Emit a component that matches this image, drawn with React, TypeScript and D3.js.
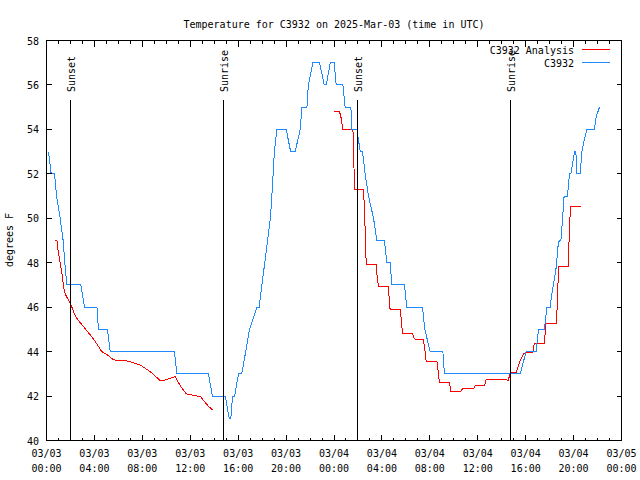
import React from "react";
import * as d3 from "d3";

// ---- Data (hours since 03/03 00:00 UTC, degrees F) ----
const blueTime = [0.17,0.39,0.67,0.84,1.14,1.39,1.53,1.70,2.87,3.17,4.21,4.34,5.09,5.32,10.68,10.88,13.52,13.85,14.92,15.25,15.39,15.53,15.70,16.03,16.30,16.63,16.94,17.56,17.75,17.98,18.22,18.46,18.69,18.81,18.92,19.02,19.23,20.01,20.38,20.76,21.18,21.32,21.74,21.86,22.24,22.79,22.99,23.18,23.35,23.69,24.02,24.18,24.74,24.93,25.41,25.49,25.91,26.19,26.38,26.60,26.88,27.30,27.58,28.21,28.41,28.69,28.83,29.88,30.08,31.39,31.58,32.03,33.09,33.22,39.54,40.04,40.87,41.07,41.57,41.77,42.04,42.19,42.38,42.55,42.69,42.80,42.94,43.05,43.21,43.49,43.66,43.78,44.08,44.19,44.27,44.55,44.69,44.88,45.11,45.74,45.88,46.16];
const blueTemp = [53,52,52,51,50,49,48,47,47,46,46,45,45,44,44,43,43,42,42,41,41,42,42,43,43,44,45,46,46,47,48,49,50,51,52,53,54,54,53,53,54,55,55,56,57,57,56.5,56,56,57,57,56,56,55,55,54,54,53,53,52,51,50,49,49,48,48,47,47,46,46,45,44,44,43,43,44,44,45,45,46,46,46.6,47.2,47.8,48.7,49,49,49.75,51,51,52,52,53,53,52,52,53,53.5,54,54,54.55,55];

const redTime1 = [0.67,0.87,0.95,1.2,1.34,1.42,1.56,1.70,1.98,2.12,2.4,2.67,3.23,3.92,4.62,5.04,5.59,6.84,7.82,8.66,9.49,9.77,10.74,11.16,11.66,12.55,12.83,13.52,13.86];
const redTemp1 = [49,49,48.6,47.8,47.35,46.9,46.6,46.45,46.2,46.0,45.6,45.4,45.03,44.57,44.0,43.87,43.63,43.57,43.4,43.1,42.7,42.7,42.88,42.47,42.1,42.0,41.99,41.54,41.38];
const redTime2 = [24.02,24.46,24.58,24.74,25.58,25.63,25.68,25.71,26.46,26.54,26.69,27.52,27.63,27.75,28.55,28.63,28.69,29.52,29.61,29.72,30.58,30.69,31.47,31.61,31.69,32.59,32.72,32.80,33.64,33.76,34.59,34.72,35.64,35.78,36.56,36.70,37.60,38.56,38.70,39.20,39.40,39.60,39.82,40.04,40.60,40.71,41.55,41.69,42.55,42.66,42.74,43.57,43.66,43.78,44.61];
const redTemp2 = [54.8,54.8,54.55,54.0,54.0,53.27,52.0,51.28,51.28,50.5,47.9,47.9,47.2,46.93,46.93,46.15,45.88,45.88,45.47,44.8,44.8,44.57,44.54,43.97,43.57,43.57,43.0,42.62,42.62,42.2,42.2,42.32,42.32,42.47,42.47,42.74,42.74,42.72,43.04,43.06,43.37,43.67,43.9,43.96,43.96,44.35,44.35,45.25,45.25,46.3,47.85,47.85,49.82,50.53,50.53];

const sunTimes = [2.0, 14.77, 25.93, 38.70];
const sunLabels = ["Sunset", "Sunrise", "Sunset", "Sunrise"];

const xTickHours = [0, 4, 8, 12, 16, 20, 24, 28, 32, 36, 40, 44, 48];
const xTickDates = ["03/03","03/03","03/03","03/03","03/03","03/03","03/04","03/04","03/04","03/04","03/04","03/04","03/05"];
const xTickTimes = ["00:00","04:00","08:00","12:00","16:00","20:00","00:00","04:00","08:00","12:00","16:00","20:00","00:00"];
const yTicks = [40, 42, 44, 46, 48, 50, 52, 54, 56, 58];

const seriesNames = ["C3932 Analysis", "C3932"];
const seriesColors = ["#ff0000", "#1e88ff"];

const FONT = "'DejaVu Sans Mono', monospace";

export default function App() {
  const L = 46.5, R = 621.5, T = 40.5, B = 440.5;
  const x = d3.scaleLinear().domain([0, 48]).range([L, R]);
  const y = d3.scaleLinear().domain([40, 58]).range([B, T]);
  const line = d3.line<[number, number]>().x(d => x(d[0])).y(d => y(d[1]));
  const zip = (a: number[], b: number[]) => a.map((t, i) => [t, b[i]] as [number, number]);

  const minor = d3.range(0, 49);

  return (
    <svg width={640} height={480} style={{ position: "absolute", left: 0, top: 0, background: "#fff" }}
      fontFamily={FONT} fontSize={10}>
      <rect x={0} y={0} width={640} height={480} fill="#fff" />
      <text x={(L + R) / 2} y={28} textAnchor="middle" fill="#000">Temperature for C3932 on 2025-Mar-03 (time in UTC)</text>

      {/* data */}
      <g shapeRendering="crispEdges">
        <path d={line(zip(redTime1, redTemp1)) || ""} fill="none" stroke={seriesColors[0]} strokeWidth={1} />
        <path d={line(zip(redTime2, redTemp2)) || ""} fill="none" stroke={seriesColors[0]} strokeWidth={1} />
        <path d={line(zip(blueTime, blueTemp)) || ""} fill="none" stroke={seriesColors[1]} strokeWidth={1} />
      </g>

      {/* sun lines */}
      {sunTimes.map((t, i) => {
        const xx = Math.round(x(t)) + 0.5;
        return (
          <g key={"s" + i}>
            <line x1={xx} x2={xx} y1={99.5} y2={B} stroke="#000" strokeWidth={1} shapeRendering="crispEdges" />
            <text transform={`translate(${xx + 4.5},92) rotate(-90)`} fill="#000">{sunLabels[i]}</text>
          </g>
        );
      })}

      {/* ticks */}
      <g stroke="#000" strokeWidth={1} shapeRendering="crispEdges">
        {minor.map(h => {
          const xx = Math.round(x(h) - 0.5) + 0.5;
          const len = h % 4 === 0 ? 6 : 3;
          return (
            <g key={"m" + h}>
              <line x1={xx} x2={xx} y1={B} y2={B - len} />
              <line x1={xx} x2={xx} y1={T} y2={T + len} />
            </g>
          );
        })}
        {yTicks.map(v => {
          const yy = Math.round(y(v) - 0.5) + 0.5;
          return (
            <g key={"y" + v}>
              <line x1={L} x2={L + 5} y1={yy} y2={yy} />
              <line x1={R} x2={R - 5} y1={yy} y2={yy} />
            </g>
          );
        })}
        <rect x={L} y={T} width={R - L} height={B - T} fill="none" />
      </g>

      {/* tick labels */}
      {yTicks.map(v => (
        <text key={"yl" + v} x={39} y={y(v) + 4} textAnchor="end" fill="#000">{v}</text>
      ))}
      {xTickHours.map((h, i) => (
        <g key={"xl" + h}>
          <text x={x(h)} y={457} textAnchor="middle" fill="#000">{xTickDates[i]}</text>
          <text x={x(h)} y={472} textAnchor="middle" fill="#000">{xTickTimes[i]}</text>
        </g>
      ))}
      <text transform={`translate(13,240) rotate(-90)`} textAnchor="middle" fill="#000">degrees F</text>

      {/* legend */}
      {seriesNames.map((n, i) => (
        <g key={"lg" + i}>
          <text x={574} y={53.5 + i * 13} textAnchor="end" fill="#000">{n}</text>
          <line x1={582} x2={610} y1={49.5 + i * 13} y2={49.5 + i * 13} stroke={seriesColors[i]} strokeWidth={1} shapeRendering="crispEdges" />
        </g>
      ))}
    </svg>
  );
}
